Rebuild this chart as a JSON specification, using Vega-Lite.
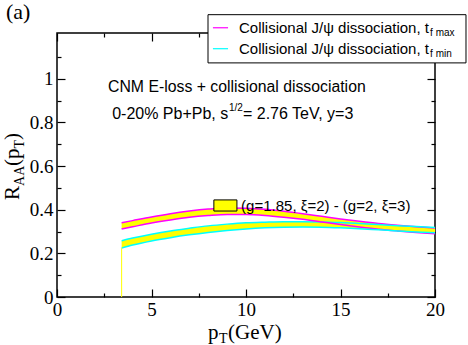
{
  "$schema": "https://vega.github.io/schema/vega-lite/v6.json",
  "width": 378,
  "height": 264,
  "autosize": {"type": "none"},
  "padding": {"left": 57, "top": 33, "right": 33, "bottom": 48},
  "background": "white",
  "config": {
    "view": {"stroke": "black", "strokeWidth": 1.5},
    "axis": {"grid": false, "domain": false, "title": null, "tickColor": "black", "tickWidth": 1.2, "labelFont": "Liberation Serif", "labelFontSize": 19, "labelColor": "black", "labelOverlap": false, "labelFlush": false, "labelBound": false}
  },
  "datasets": {
    "bands": [
      {"pt": 3.42, "set": "max", "hi": 0.340, "lo": 0.312},
      {"pt": 4, "set": "max", "hi": 0.350, "lo": 0.322},
      {"pt": 5, "set": "max", "hi": 0.367, "lo": 0.339},
      {"pt": 6, "set": "max", "hi": 0.382, "lo": 0.353},
      {"pt": 7, "set": "max", "hi": 0.394, "lo": 0.365},
      {"pt": 8, "set": "max", "hi": 0.403, "lo": 0.373},
      {"pt": 9, "set": "max", "hi": 0.408, "lo": 0.378},
      {"pt": 10, "set": "max", "hi": 0.407, "lo": 0.378},
      {"pt": 11, "set": "max", "hi": 0.402, "lo": 0.374},
      {"pt": 12, "set": "max", "hi": 0.393, "lo": 0.366},
      {"pt": 13, "set": "max", "hi": 0.382, "lo": 0.356},
      {"pt": 14, "set": "max", "hi": 0.370, "lo": 0.344},
      {"pt": 15, "set": "max", "hi": 0.358, "lo": 0.332},
      {"pt": 16, "set": "max", "hi": 0.347, "lo": 0.321},
      {"pt": 17, "set": "max", "hi": 0.337, "lo": 0.311},
      {"pt": 18, "set": "max", "hi": 0.329, "lo": 0.303},
      {"pt": 19, "set": "max", "hi": 0.322, "lo": 0.296},
      {"pt": 20, "set": "max", "hi": 0.316, "lo": 0.290},
      {"pt": 3.42, "set": "min", "hi": 0.258, "lo": 0.224},
      {"pt": 4, "set": "min", "hi": 0.270, "lo": 0.238},
      {"pt": 5, "set": "min", "hi": 0.288, "lo": 0.257},
      {"pt": 6, "set": "min", "hi": 0.303, "lo": 0.272},
      {"pt": 7, "set": "min", "hi": 0.315, "lo": 0.285},
      {"pt": 8, "set": "min", "hi": 0.326, "lo": 0.296},
      {"pt": 9, "set": "min", "hi": 0.334, "lo": 0.305},
      {"pt": 10, "set": "min", "hi": 0.340, "lo": 0.312},
      {"pt": 11, "set": "min", "hi": 0.343, "lo": 0.317},
      {"pt": 12, "set": "min", "hi": 0.345, "lo": 0.320},
      {"pt": 13, "set": "min", "hi": 0.345, "lo": 0.321},
      {"pt": 14, "set": "min", "hi": 0.344, "lo": 0.320},
      {"pt": 15, "set": "min", "hi": 0.341, "lo": 0.317},
      {"pt": 16, "set": "min", "hi": 0.337, "lo": 0.313},
      {"pt": 17, "set": "min", "hi": 0.332, "lo": 0.308},
      {"pt": 18, "set": "min", "hi": 0.327, "lo": 0.303},
      {"pt": 19, "set": "min", "hi": 0.323, "lo": 0.298},
      {"pt": 20, "set": "min", "hi": 0.319, "lo": 0.294}
    ]
  },
  "data": {"name": "bands"},
  "resolve": {"axis": {"x": "independent", "y": "independent"}},
  "layer": [
    {
      "mark": {"type": "area", "color": "#ffff00", "interpolate": "monotone", "opacity": 1},
      "encoding": {
        "x": {"field": "pt", "type": "quantitative", "scale": {"domain": [0, 20], "nice": false},
          "axis": {"orient": "bottom", "values": [0, 2.5, 5, 7.5, 10, 12.5, 15, 17.5, 20], "format": "~g",
            "labelExpr": "datum.value % 5 === 0 ? datum.label : ''",
            "tickSize": {"condition": {"test": "datum.value % 5 === 0", "value": -8}, "value": -4}, "labelPadding": 11}},
        "y": {"field": "lo", "type": "quantitative", "scale": {"domain": [0, 1.21], "nice": false},
          "axis": {"orient": "left", "values": [0, 0.1, 0.2, 0.3, 0.4, 0.5, 0.6, 0.7, 0.8, 0.9, 1, 1.1], "format": "~g",
            "labelExpr": "(round(datum.value * 10) % 2 === 0 && datum.value < 1.05) ? datum.label : ''",
            "tickSize": {"condition": {"test": "round(datum.value * 10) % 2 === 0", "value": -8}, "value": -4}, "labelPadding": 12}},
        "y2": {"field": "hi"},
        "detail": {"field": "set"}
      }
    },
    {
      "mark": {"type": "line", "strokeWidth": 1.5, "interpolate": "monotone"},
      "encoding": {
        "x": {"field": "pt", "type": "quantitative",
          "axis": {"orient": "top", "values": [0, 2.5, 5, 7.5, 10, 12.5, 15, 17.5, 20], "labels": false,
            "tickSize": {"condition": {"test": "datum.value % 5 === 0", "value": -8}, "value": -4}}},
        "y": {"field": "hi", "type": "quantitative",
          "axis": {"orient": "right", "values": [0, 0.1, 0.2, 0.3, 0.4, 0.5, 0.6, 0.7, 0.8, 0.9, 1, 1.1], "labels": false,
            "tickSize": {"condition": {"test": "round(datum.value * 10) % 2 === 0", "value": -8}, "value": -4}}},
        "color": {"field": "set", "type": "nominal", "scale": {"domain": ["max", "min"], "range": ["#ff00ff", "#00ffff"]}, "legend": null},
        "detail": {"field": "set"}
      }
    },
    {
      "mark": {"type": "line", "strokeWidth": 1.5, "interpolate": "monotone"},
      "encoding": {
        "x": {"field": "pt", "type": "quantitative", "axis": null},
        "y": {"field": "lo", "type": "quantitative", "axis": null},
        "color": {"field": "set", "type": "nominal", "legend": null},
        "detail": {"field": "set"}
      }
    },
    {
      "data": {"values": [{"pt": 3.42, "y0": 0, "y1": 0.224}]},
      "mark": {"type": "rule", "color": "#ffff00", "strokeWidth": 1},
      "encoding": {
        "x": {"field": "pt", "type": "quantitative", "axis": null},
        "y": {"field": "y0", "type": "quantitative", "axis": null},
        "y2": {"field": "y1"}
      }
    },
    {
      "data": {"values": [{}]},
      "mark": {"type": "rect", "fill": "white", "stroke": "black", "strokeWidth": 1},
      "encoding": {
        "x": {"datum": 7.99, "type": "quantitative", "axis": null},
        "x2": {"datum": 21.64},
        "y": {"datum": 1.073, "type": "quantitative", "axis": null},
        "y2": {"datum": 1.294}
      }
    },
    {
      "data": {"values": [{}]},
      "mark": {"type": "rule", "color": "#ff00ff", "strokeWidth": 1.2},
      "encoding": {
        "x": {"datum": 8.25, "type": "quantitative", "axis": null},
        "x2": {"datum": 9.05},
        "y": {"datum": 1.234, "type": "quantitative", "axis": null}
      }
    },
    {
      "data": {"values": [{}]},
      "mark": {"type": "rule", "color": "#00ffff", "strokeWidth": 1.2},
      "encoding": {
        "x": {"datum": 8.25, "type": "quantitative", "axis": null},
        "x2": {"datum": 9.05},
        "y": {"datum": 1.138, "type": "quantitative", "axis": null}
      }
    },
    {
      "data": {"values": [{}]},
      "mark": {"type": "text", "font": "Liberation Sans", "fontSize": 15, "align": "right", "baseline": "middle", "color": "black"},
      "encoding": {
        "x": {"datum": 19.68, "type": "quantitative", "axis": null},
        "y": {"datum": 1.234, "type": "quantitative", "axis": null},
        "text": {"value": "Collisional J/ψ dissociation, t"}
      }
    },
    {
      "data": {"values": [{}]},
      "mark": {"type": "text", "font": "Liberation Sans", "fontSize": 15, "align": "right", "baseline": "middle", "color": "black"},
      "encoding": {
        "x": {"datum": 19.68, "type": "quantitative", "axis": null},
        "y": {"datum": 1.138, "type": "quantitative", "axis": null},
        "text": {"value": "Collisional J/ψ dissociation, t"}
      }
    },
    {
      "data": {"values": [{}]},
      "mark": {"type": "text", "font": "Liberation Sans", "fontSize": 10, "align": "left", "baseline": "middle", "color": "black"},
      "encoding": {
        "x": {"datum": 19.74, "type": "quantitative", "axis": null},
        "y": {"datum": 1.212, "type": "quantitative", "axis": null},
        "text": {"value": "f max"}
      }
    },
    {
      "data": {"values": [{}]},
      "mark": {"type": "text", "font": "Liberation Sans", "fontSize": 10, "align": "left", "baseline": "middle", "color": "black"},
      "encoding": {
        "x": {"datum": 19.74, "type": "quantitative", "axis": null},
        "y": {"datum": 1.116, "type": "quantitative", "axis": null},
        "text": {"value": "f min"}
      }
    },
    {
      "data": {"values": [{}]},
      "mark": {"type": "text", "font": "Liberation Sans", "fontSize": 15.8, "align": "left", "baseline": "middle", "color": "black"},
      "encoding": {
        "x": {"datum": 2.7, "type": "quantitative", "axis": null},
        "y": {"datum": 0.963, "type": "quantitative", "axis": null},
        "text": {"value": "CNM E-loss + collisional dissociation"}
      }
    },
    {
      "data": {"values": [{}]},
      "mark": {"type": "text", "font": "Liberation Sans", "fontSize": 16, "align": "right", "baseline": "middle", "color": "black"},
      "encoding": {
        "x": {"datum": 9.06, "type": "quantitative", "axis": null},
        "y": {"datum": 0.839, "type": "quantitative", "axis": null},
        "text": {"value": "0-20% Pb+Pb, s"}
      }
    },
    {
      "data": {"values": [{}]},
      "mark": {"type": "text", "font": "Liberation Sans", "fontSize": 10, "align": "left", "baseline": "middle", "color": "black"},
      "encoding": {
        "x": {"datum": 9.1, "type": "quantitative", "axis": null},
        "y": {"datum": 0.868, "type": "quantitative", "axis": null},
        "text": {"value": "1/2"}
      }
    },
    {
      "data": {"values": [{}]},
      "mark": {"type": "text", "font": "Liberation Sans", "fontSize": 16, "align": "left", "baseline": "middle", "color": "black"},
      "encoding": {
        "x": {"datum": 9.84, "type": "quantitative", "axis": null},
        "y": {"datum": 0.839, "type": "quantitative", "axis": null},
        "text": {"value": " = 2.76 TeV, y=3"}
      }
    },
    {
      "data": {"values": [{}]},
      "mark": {"type": "rect", "fill": "#ffff00", "stroke": "black", "strokeWidth": 1},
      "encoding": {
        "x": {"datum": 8.3, "type": "quantitative", "axis": null},
        "x2": {"datum": 9.52},
        "y": {"datum": 0.394, "type": "quantitative", "axis": null},
        "y2": {"datum": 0.445}
      }
    },
    {
      "data": {"values": [{}]},
      "mark": {"type": "text", "font": "Liberation Sans", "fontSize": 15, "align": "left", "baseline": "middle", "color": "black"},
      "encoding": {
        "x": {"datum": 9.74, "type": "quantitative", "axis": null},
        "y": {"datum": 0.417, "type": "quantitative", "axis": null},
        "text": {"value": "(g=1.85, ξ=2) - (g=2, ξ=3)"}
      }
    },
    {
      "data": {"values": [{}]},
      "mark": {"type": "text", "font": "Liberation Serif", "fontSize": 22, "align": "left", "baseline": "middle", "color": "black"},
      "encoding": {
        "x": {"datum": -2.7, "type": "quantitative", "axis": null},
        "y": {"datum": 1.305, "type": "quantitative", "axis": null},
        "text": {"value": "(a)"}
      }
    },
    {
      "data": {"values": [{}]},
      "mark": {"type": "text", "font": "Liberation Serif", "fontSize": 21, "align": "left", "baseline": "alphabetic", "color": "black"},
      "encoding": {
        "x": {"datum": 7.99, "type": "quantitative", "axis": null},
        "y": {"datum": -0.192, "type": "quantitative", "axis": null},
        "text": {"value": "p"}
      }
    },
    {
      "data": {"values": [{}]},
      "mark": {"type": "text", "font": "Liberation Serif", "fontSize": 14, "align": "left", "baseline": "alphabetic", "color": "black"},
      "encoding": {
        "x": {"datum": 8.57, "type": "quantitative", "axis": null},
        "y": {"datum": -0.211, "type": "quantitative", "axis": null},
        "text": {"value": "T"}
      }
    },
    {
      "data": {"values": [{}]},
      "mark": {"type": "text", "font": "Liberation Serif", "fontSize": 21, "align": "left", "baseline": "alphabetic", "color": "black"},
      "encoding": {
        "x": {"datum": 9.05, "type": "quantitative", "axis": null},
        "y": {"datum": -0.192, "type": "quantitative", "axis": null},
        "text": {"value": "(GeV)"}
      }
    },
    {
      "data": {"values": [{}]},
      "mark": {"type": "text", "font": "Liberation Serif", "fontSize": 21, "align": "left", "baseline": "alphabetic", "angle": 270, "color": "black"},
      "encoding": {
        "x": {"datum": -2.0, "type": "quantitative", "axis": null},
        "y": {"datum": 0.445, "type": "quantitative", "axis": null},
        "text": {"value": "R"}
      }
    },
    {
      "data": {"values": [{}]},
      "mark": {"type": "text", "font": "Liberation Serif", "fontSize": 14, "align": "left", "baseline": "alphabetic", "angle": 270, "color": "black"},
      "encoding": {
        "x": {"datum": -1.74, "type": "quantitative", "axis": null},
        "y": {"datum": 0.509, "type": "quantitative", "axis": null},
        "text": {"value": "AA"}
      }
    },
    {
      "data": {"values": [{}]},
      "mark": {"type": "text", "font": "Liberation Serif", "fontSize": 21, "align": "left", "baseline": "alphabetic", "angle": 270, "color": "black"},
      "encoding": {
        "x": {"datum": -2.0, "type": "quantitative", "axis": null},
        "y": {"datum": 0.6, "type": "quantitative", "axis": null},
        "text": {"value": "(p"}
      }
    },
    {
      "data": {"values": [{}]},
      "mark": {"type": "text", "font": "Liberation Serif", "fontSize": 14, "align": "left", "baseline": "alphabetic", "angle": 270, "color": "black"},
      "encoding": {
        "x": {"datum": -1.74, "type": "quantitative", "axis": null},
        "y": {"datum": 0.681, "type": "quantitative", "axis": null},
        "text": {"value": "T"}
      }
    },
    {
      "data": {"values": [{}]},
      "mark": {"type": "text", "font": "Liberation Serif", "fontSize": 21, "align": "left", "baseline": "alphabetic", "angle": 270, "color": "black"},
      "encoding": {
        "x": {"datum": -2.0, "type": "quantitative", "axis": null},
        "y": {"datum": 0.72, "type": "quantitative", "axis": null},
        "text": {"value": ")"}
      }
    }
  ]
}
